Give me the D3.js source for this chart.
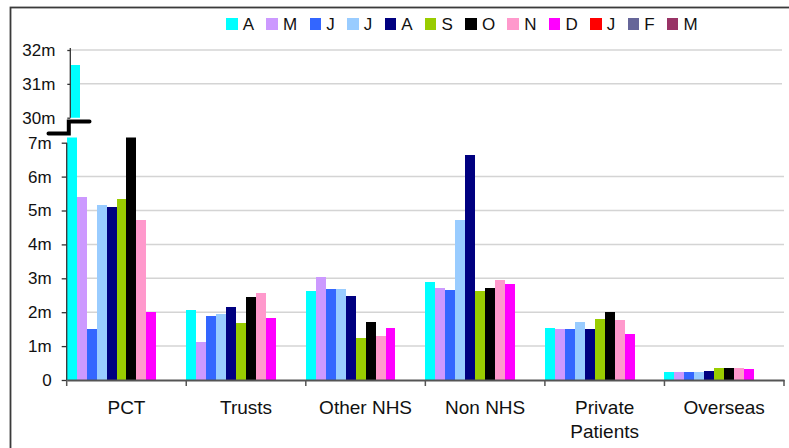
<!DOCTYPE html>
<html>
<head>
<meta charset="utf-8">
<script src="https://cdn.jsdelivr.net/npm/d3@7"></script>
<style>
  html, body { margin: 0; padding: 0; background: #fff; }
  svg { display: block; font-family: "Liberation Sans", Arial, sans-serif; }
</style>
</head>
<body>
<svg id="chart" width="789" height="448"></svg>
<script>
// Income by source, month by month (values in £m)
const categories = ["PCT", "Trusts", "Other NHS", "Non NHS", "Private Patients", "Overseas"];
const months = ["A", "M", "J", "J", "A", "S", "O", "N", "D", "J", "F", "M"];
const monthColors = ["#00FFFF", "#CC99FF", "#3366FF", "#99CCFF", "#000080", "#99CC00",
                     "#000000", "#FF99CC", "#FF00FF", "#FF0000", "#666699", "#993366"];

const aprValues = [31.56, 2.06, 2.63, 2.89, 1.53, 0.24];
const mayValues = [5.40, 1.12, 3.04, 2.71, 1.50, 0.24];
const junValues = [1.50, 1.89, 2.68, 2.65, 1.50, 0.24];
const julValues = [5.16, 1.95, 2.68, 4.72, 1.71, 0.24];
const augValues = [5.10, 2.15, 2.48, 6.64, 1.50, 0.27];
const sepValues = [5.34, 1.68, 1.24, 2.63, 1.80, 0.35];
const octValues = [7.20, 2.45, 1.71, 2.71, 2.01, 0.35];
const novValues = [4.72, 2.57, 1.30, 2.95, 1.77, 0.35];
const decValues = [2.01, 1.83, 1.53, 2.83, 1.36, 0.32];
const janValues = [null, null, null, null, null, null];
const febValues = [null, null, null, null, null, null];
const marValues = [null, null, null, null, null, null];

const lowerTicks = [0, 1, 2, 3, 4, 5, 6, 7];
const lowerTickLabels = ["0", "1m", "2m", "3m", "4m", "5m", "6m", "7m"];
const upperTicks = [30, 31, 32];
const upperTickLabels = ["30m", "31m", "32m"];

const seriesValues = [aprValues, mayValues, junValues, julValues, augValues, sepValues,
                      octValues, novValues, decValues, janValues, febValues, marValues];

const svg = d3.select("#chart");

// Outer frame (left and top edges visible)
svg.append("rect")
  .attr("x", 10.5).attr("y", 7.5)
  .attr("width", 800).attr("height", 460)
  .attr("fill", "none").attr("stroke", "#3a3a3a").attr("stroke-width", 1.8);

// Geometry
const plotLeft = 66.7, plotRight = 784;
const lowerTop = 137.6, lowerBottom = 380;
const upperShift = 3.6;

const x = d3.scaleBand().domain(categories).range([plotLeft, plotRight]).paddingInner(0).paddingOuter(0);
const xs = d3.scaleBand().domain(d3.range(months.length)).range([0, x.bandwidth()]).padding(0);

const yLow = d3.scaleLinear().domain([0, 7]).range([lowerBottom, 142.7]);
const yHigh = d3.scaleLinear().domain([30, 32]).range([117.7, 50]);

// Clip regions for each panel
const defs = svg.append("defs");
defs.append("clipPath").attr("id", "clipLow").append("rect")
  .attr("x", plotLeft).attr("y", lowerTop).attr("width", plotRight - plotLeft).attr("height", lowerBottom - lowerTop);
defs.append("clipPath").attr("id", "clipHigh").append("rect")
  .attr("x", plotLeft + upperShift).attr("y", yHigh(32) - 10).attr("width", plotRight - plotLeft)
  .attr("height", yHigh(30) - yHigh(32) + 10);

// Gridlines
const gridColor = "#d4d4d4";
svg.append("g").selectAll("line").data(lowerTicks.filter(t => t > 0 && t < 7)).join("line")
  .attr("x1", plotLeft).attr("x2", plotRight)
  .attr("y1", d => yLow(d)).attr("y2", d => yLow(d))
  .attr("stroke", gridColor).attr("stroke-width", 1.5);
svg.append("g").selectAll("line").data(upperTicks.filter(t => t > 30)).join("line")
  .attr("x1", plotLeft + upperShift).attr("x2", plotRight - 2)
  .attr("y1", d => yHigh(d)).attr("y2", d => yHigh(d))
  .attr("stroke", gridColor).attr("stroke-width", 1.5);

// Flatten to bar records
const bars = [];
seriesValues.forEach((vals, si) => {
  vals.forEach((v, ci) => {
    if (v != null) bars.push({ si, cat: categories[ci], v });
  });
});

// Lower panel bars
svg.append("g").attr("clip-path", "url(#clipLow)")
  .selectAll("rect").data(bars).join("rect")
  .attr("x", d => x(d.cat) + xs(d.si))
  .attr("width", xs.bandwidth())
  .attr("y", d => yLow(d.v))
  .attr("height", d => yLow(0) - yLow(d.v))
  .attr("fill", d => monthColors[d.si])
  .attr("shape-rendering", "crispEdges");

// Upper panel bars (values above the break)
svg.append("g").attr("clip-path", "url(#clipHigh)")
  .selectAll("rect").data(bars.filter(d => d.v > 30)).join("rect")
  .attr("x", d => x(d.cat) + xs(d.si) + upperShift)
  .attr("width", xs.bandwidth())
  .attr("y", d => yHigh(d.v))
  .attr("height", d => yHigh(30) - yHigh(d.v))
  .attr("fill", d => monthColors[d.si])
  .attr("shape-rendering", "crispEdges");

// Y axes
const axisColor = "#333";
const gLowAxis = svg.append("g").attr("transform", `translate(${plotLeft},0)`)
  .call(d3.axisLeft(yLow).tickValues(lowerTicks)
    .tickFormat((d, i) => lowerTickLabels[i]).tickSize(5).tickPadding(10));
const gHighAxis = svg.append("g").attr("transform", `translate(${plotLeft + upperShift},0)`)
  .call(d3.axisLeft(yHigh).tickValues(upperTicks)
    .tickFormat((d, i) => upperTickLabels[i]).tickSize(3).tickPadding(12));
[gLowAxis, gHighAxis].forEach(g => {
  g.select(".domain").remove();
  g.selectAll(".tick line").attr("stroke", axisColor).attr("stroke-width", 1.3);
  g.selectAll(".tick text").attr("fill", "#111").style("font-size", "17px")
    .style("font-family", "'Liberation Sans', Arial, sans-serif");
});
// vertical axis lines
svg.append("line").attr("x1", plotLeft).attr("x2", plotLeft)
  .attr("y1", yLow(7)).attr("y2", lowerBottom).attr("stroke", axisColor).attr("stroke-width", 1.3);
svg.append("line").attr("x1", plotLeft + upperShift).attr("x2", plotLeft + upperShift)
  .attr("y1", yHigh(32) - 2).attr("y2", yHigh(30)).attr("stroke", axisColor).attr("stroke-width", 1.3);

// X axis
const xAxisG = svg.append("g").attr("transform", `translate(0,${lowerBottom})`)
  .call(d3.axisBottom(x).tickSize(0).tickPadding(0).tickFormat(""));
xAxisG.select(".domain").attr("stroke", "#555").attr("stroke-width", 1.8);
xAxisG.selectAll(".tick").remove();
const boundaries = categories.map(c => x(c)).concat([plotRight]);
xAxisG.selectAll("line.bound").data(boundaries).join("line")
  .attr("class", "bound")
  .attr("x1", d => d).attr("x2", d => d)
  .attr("y1", 0).attr("y2", 6)
  .attr("stroke", "#555").attr("stroke-width", 1.5);

// Category labels (wrapped on spaces only for the long one)
const catLabels = svg.append("g").selectAll("text").data(categories).join("text")
  .attr("x", d => x(d) + x.bandwidth() / 2)
  .attr("y", 414)
  .attr("text-anchor", "middle")
  .attr("fill", "#111")
  .style("font-size", "19px");
catLabels.each(function (d) {
  const lines = d === "Private Patients" ? ["Private", "Patients"] : [d];
  const t = d3.select(this);
  lines.forEach((ln, i) => {
    t.append("tspan").attr("x", x(d) + x.bandwidth() / 2).attr("dy", i === 0 ? 0 : 24).text(ln);
  });
});

// Axis break marker
svg.append("path")
  .attr("d", d3.line()([[48.5, 133.5], [68.8, 133.5], [68.8, 121.5], [89.5, 121.5]]))
  .attr("fill", "none").attr("stroke", "#000").attr("stroke-width", 4)
  .attr("stroke-linecap", "round").attr("stroke-linejoin", "miter");

// Legend
const legend = svg.append("g");
let lx = 226;
months.forEach((m, i) => {
  legend.append("rect").attr("x", lx).attr("y", 17.7).attr("width", 11.5).attr("height", 12)
    .attr("fill", monthColors[i]).attr("shape-rendering", "crispEdges");
  const t = legend.append("text").attr("x", lx + 16.7).attr("y", 29.7)
    .attr("fill", "#111").style("font-size", "17px").text(m);
  lx = lx + 16.7 + t.node().getComputedTextLength() + 12.3;
});
</script>
</body>
</html>
